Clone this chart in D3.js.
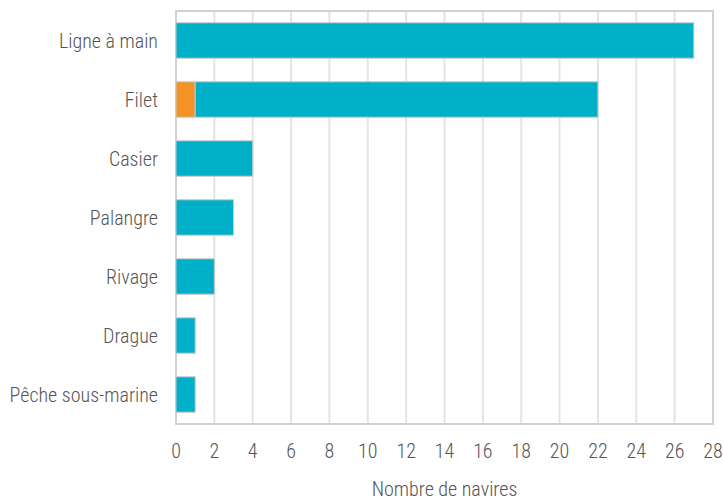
<!DOCTYPE html>
<html><head><meta charset="utf-8">
<script src="https://cdn.jsdelivr.net/npm/d3@7"></script>
<style>
body{margin:0;background:#fff;}
text{font-family:"Roboto Condensed","Liberation Sans Narrow",sans-serif;font-weight:300;fill:#555;}
</style></head><body>
<svg id="c" width="723" height="502"></svg>
<script>
const categories = ["Ligne à main","Filet","Casier","Palangre","Rivage","Drague","Pêche sous-marine"];
const orangeValues = [0,1,0,0,0,0,0];
const cyanValues = [27,21,4,3,2,1,1];
const xTicks = [0,2,4,6,8,10,12,14,16,18,20,22,24,26,28];
const seriesColors = ["#F39325","#00B0C8"];
const xTitle = "Nombre de navires";

const svg = d3.select("#c");
const L = 176, R = 713, T = 11, B = 424;
const x = d3.scaleLinear().domain([0,28]).range([L,R]);
const y = d3.scaleBand().domain(categories).range([T,B]).paddingInner(0.4).paddingOuter(0.2);

svg.append("g").selectAll("line").data(xTicks.slice(1,-1)).join("line")
  .attr("x1",d=>x(d)).attr("x2",d=>x(d)).attr("y1",T).attr("y2",B)
  .attr("stroke","#e4e4e4").attr("stroke-width",2);
svg.append("rect").attr("x",L).attr("y",T).attr("width",R-L).attr("height",B-T)
  .attr("fill","none").attr("stroke","#d2d2d2").attr("stroke-width",2);

const data = categories.map((c,i)=>({c, o:orangeValues[i], v:cyanValues[i]}));
const g = svg.append("g");
data.forEach(d=>{
  if(d.o>0){
    g.append("rect").attr("x",x(0)).attr("y",y(d.c)).attr("width",x(d.o)-x(0)).attr("height",y.bandwidth())
      .attr("fill",seriesColors[0]).attr("stroke","#c8c8c8").attr("stroke-width",1);
  }
  g.append("rect").attr("x",x(d.o)).attr("y",y(d.c)).attr("width",x(d.o+d.v)-x(d.o)).attr("height",y.bandwidth())
    .attr("fill",seriesColors[1]).attr("stroke","#c8c8c8").attr("stroke-width",1);
});

const fs = 20;
svg.append("g").selectAll("text").data(categories).join("text")
  .attr("x",L-18).attr("y",d=>y(d)+y.bandwidth()/2).attr("dy","0.35em")
  .attr("text-anchor","end").attr("font-size",fs).text(d=>d);
svg.append("g").selectAll("text").data(xTicks).join("text")
  .attr("x",d=>x(d)).attr("y",451).attr("dy","0.35em")
  .attr("text-anchor","middle").attr("font-size",fs).text(d=>d);
svg.append("text").attr("x",(L+R)/2).attr("y",489).attr("dy","0.35em")
  .attr("text-anchor","middle").attr("font-size",fs).text(xTitle);
</script></body></html>
